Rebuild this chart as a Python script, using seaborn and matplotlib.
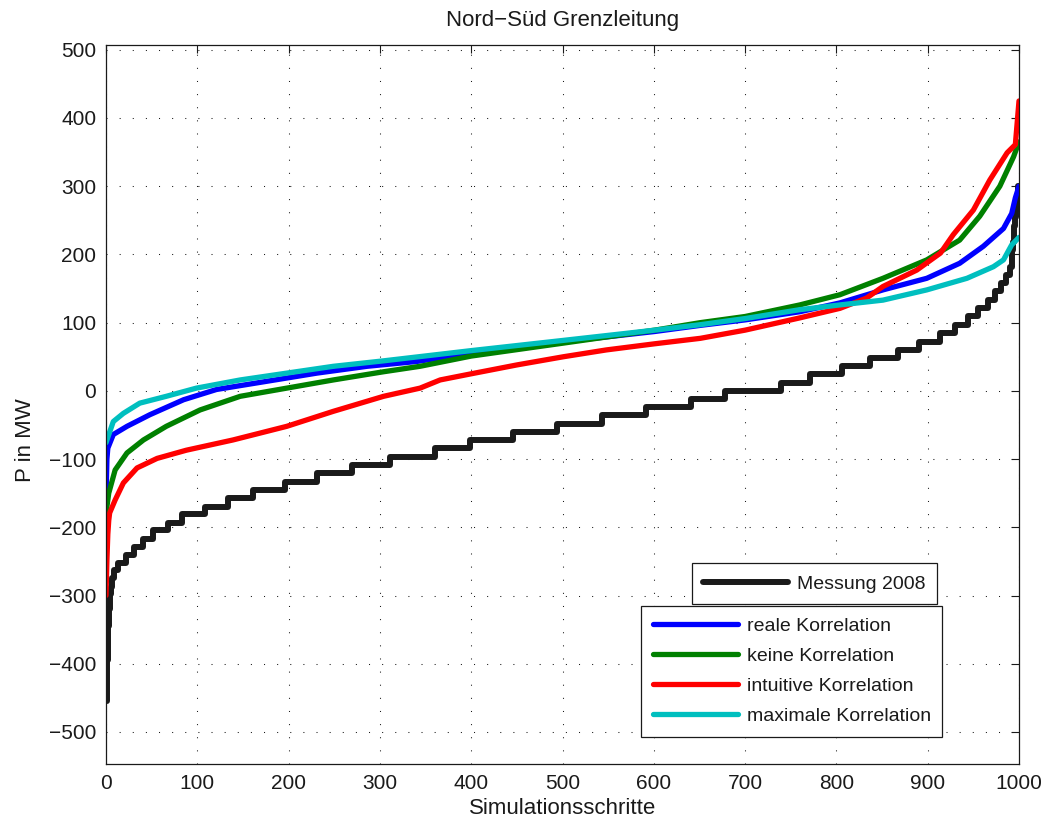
import matplotlib
matplotlib.use("Agg")
import matplotlib.pyplot as plt
import pandas as pd
import seaborn as sns

# Measured 2008 flows, quantised: index where each level starts and the level in MW
meas_start = [0, 1, 2, 3, 4, 5, 7, 9, 13, 22, 31, 40, 51, 68, 83, 108, 134, 161, 196,
              231, 269, 311, 360, 399, 446, 494, 543, 592, 641, 678, 739, 771, 806, 837,
              868, 890, 913, 930, 944, 955, 966, 974, 980, 986, 990, 992, 993, 994, 995,
              996, 997, 998, 999, 1000]
meas_level = [-455, -395, -345, -320, -298, -287, -275, -263, -252, -240, -229, -217, -204,
              -193, -181, -170, -157, -145, -133, -121, -109, -97, -84, -72, -60, -48, -36,
              -24, -12, 0, 12, 24, 36, 48, 60, 72, 85, 97, 109, 121, 133, 146, 158, 170,
              182, 206, 218, 230, 242, 255, 267, 279, 300, 300]

# Simulated, sorted flows for the correlation scenarios
real_x = [0, 1, 2, 8, 23, 48, 85, 121, 176, 231, 286, 340, 400, 501, 601, 651, 700, 760,
          804, 851, 899, 935, 961, 983, 992, 996, 1000]
real_y = [-160, -100, -84, -64, -52, -35, -13, 2, 14, 26, 36, 43, 55, 72, 87, 96, 104, 116,
          129, 148, 165, 187, 212, 238, 260, 283, 300]

none_x = [0, 1, 3, 10, 23, 41, 66, 103, 147, 198, 249, 304, 344, 400, 501, 601, 651, 700,
          760, 804, 851, 899, 935, 957, 979, 994, 1000]
none_y = [-185, -170, -150, -116, -91, -72, -52, -28, -8, 4, 16, 28, 36, 51, 70, 89, 100, 109,
          126, 141, 165, 192, 221, 256, 300, 343, 365]

intu_x = [0, 1, 2, 3, 4, 10, 19, 34, 56, 88, 139, 198, 249, 304, 344, 366, 400, 450, 501,
          548, 601, 651, 700, 760, 804, 833, 851, 888, 914, 928, 950, 968, 987, 996, 1000]
intu_y = [-300, -248, -210, -190, -179, -160, -135, -113, -99, -87, -72, -52, -30, -8, 4, 16,
          25, 38, 50, 60, 69, 77, 89, 107, 121, 136, 153, 177, 202, 229, 265, 309, 349, 361, 425]

max_x = [0, 8, 19, 37, 66, 99, 147, 198, 249, 304, 400, 501, 601, 651, 700, 760, 804, 851,
         899, 943, 972, 983, 992, 1000]
max_y = [-76, -45, -33, -18, -8, 4, 16, 26, 36, 44, 59, 74, 89, 97, 106, 119, 126, 133, 148,
         165, 182, 192, 214, 225]

series = [
    ("reale Korrelation", real_x, real_y, (0, 0, 1)),
    ("keine Korrelation", none_x, none_y, (0, 0.5, 0)),
    ("intuitive Korrelation", intu_x, intu_y, (1, 0, 0)),
    ("maximale Korrelation", max_x, max_y, (0, 0.75, 0.75)),
]

sns.set_theme(style="white")
plt.rcParams["font.family"] = ["Liberation Sans", "DejaVu Sans"]
plt.rcParams["axes.unicode_minus"] = True
plt.rcParams["text.color"] = "k"

fig = plt.figure(figsize=(10.46, 8.25), dpi=100)
ax = fig.add_axes([0.10134, 0.07394, 0.87285, 0.87152])

meas_df = pd.DataFrame({"x": meas_start, "y": meas_level})
sns.lineplot(data=meas_df, x="x", y="y", ax=ax, color="k", linewidth=4.3,
             drawstyle="steps-post", estimator=None, sort=False,
             label="Messung 2008", legend=False)
meas_handle = ax.lines[-1]

handles = []
for name, xs, ys, col in series:
    df = pd.DataFrame({"x": xs, "y": ys})
    sns.lineplot(data=df, x="x", y="y", ax=ax, color=col, linewidth=3.8,
                 estimator=None, sort=False, label=name, legend=False)
    handles.append(ax.lines[-1])

ax.set_xlim(0, 1000)
ax.set_ylim(-547, 507)
ax.set_xticks(range(0, 1001, 100))
ax.set_yticks(range(-500, 501, 100))

ax.grid(True, color="k", linestyle=(0, (1, 11.6)), linewidth=0.75)
for s in ax.spines.values():
    s.set_visible(True)
    s.set_color("k")
    s.set_linewidth(0.9)
ax.tick_params(direction="in", length=6, width=0.8, color="k", top=True, right=True,
               labelsize=15, labelcolor="k")
ax.tick_params(axis="x", pad=7.5)
ax.tick_params(axis="y", pad=7)

ax.set_title("Nord\u2212Süd Grenzleitung", fontsize=16, color="k", pad=14)
ax.set_xlabel("Simulationsschritte", fontsize=16, color="k", labelpad=3)
ax.set_ylabel("P in MW", fontsize=16, color="k")
ax.yaxis.set_label_coords(-0.0767, 0.45)

leg_kw = dict(fontsize=14, frameon=True, fancybox=False, shadow=False, framealpha=1,
              edgecolor="k", handlelength=4.37, handletextpad=0.46, borderpad=0.6,
              borderaxespad=0, bbox_transform=fig.transFigure, loc="upper left")

leg1 = ax.legend([meas_handle], ["Messung 2008"],
                 bbox_to_anchor=(691.7 / 1046, 1 - 563.3 / 825), **leg_kw)
leg1.get_frame().set_linewidth(0.9)
ax.add_artist(leg1)

leg2 = ax.legend(handles, [s[0] for s in series], labelspacing=0.64,
                 bbox_to_anchor=(641 / 1046, 1 - 605.7 / 825), **leg_kw)
leg2.get_frame().set_linewidth(0.9)

fig.savefig("out.png", dpi=100, facecolor="white")
